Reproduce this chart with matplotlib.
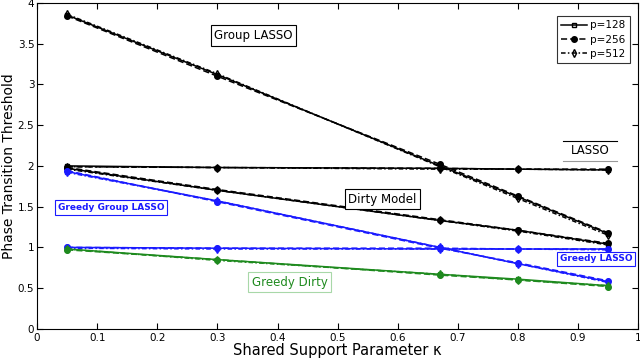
import matplotlib
matplotlib.use("Agg")
import matplotlib.pyplot as plt
from matplotlib.lines import Line2D

kappa = [0.05, 0.3, 0.67, 0.8, 0.95]

# values per method: p=128, p=256, p=512
group_lasso = {128: [3.85, 3.12, 2.00, 1.62, 1.17],
               256: [3.84, 3.10, 2.02, 1.63, 1.18],
               512: [3.86, 3.13, 1.99, 1.60, 1.15]}
lasso = {128: [2.00, 1.98, 1.97, 1.96, 1.95],
         256: [1.99, 1.98, 1.97, 1.96, 1.96],
         512: [1.99, 1.98, 1.96, 1.96, 1.95]}
dirty = {128: [1.97, 1.70, 1.33, 1.21, 1.04],
         256: [1.98, 1.71, 1.34, 1.21, 1.05],
         512: [1.96, 1.70, 1.33, 1.20, 1.03]}
greedy_group = {128: [1.93, 1.57, 1.00, 0.80, 0.58],
                256: [1.94, 1.56, 0.99, 0.81, 0.59],
                512: [1.92, 1.57, 1.00, 0.80, 0.57]}
greedy_lasso = {128: [1.00, 0.99, 0.98, 0.98, 0.98],
                256: [1.00, 0.99, 0.99, 0.98, 0.98],
                512: [0.99, 0.98, 0.98, 0.98, 0.97]}
greedy_dirty = {128: [0.98, 0.85, 0.67, 0.61, 0.53],
                256: [0.97, 0.85, 0.66, 0.60, 0.52],
                512: [0.98, 0.84, 0.67, 0.60, 0.53]}

p_values = [128, 256, 512]
p_labels = ["p=128", "p=256", "p=512"]

methods = [(group_lasso, "black"), (lasso, "black"), (dirty, "black"),
           (greedy_group, "#1a1aff"), (greedy_lasso, "#1a1aff"),
           (greedy_dirty, "#1e8a1e")]

styles = {128: dict(linestyle="-", marker="s", markersize=3.5, markerfacecolor="none"),
          256: dict(linestyle=(0, (4, 2)), marker="o", markersize=4),
          512: dict(linestyle=(0, (3, 1.5, 1, 1.5)), marker="d", markersize=4,
                    markerfacecolor="none")}

fig = plt.figure(figsize=(6.4, 3.63), dpi=100)
ax = fig.add_axes([0.058, 0.094, 0.939, 0.898])

for data, col in methods:
    for p in p_values:
        ax.plot(kappa, data[p], color=col, linewidth=1.1,
                markeredgewidth=1.0, **styles[p])

ax.set_xlim(0, 1)
ax.set_ylim(0, 4)
ax.set_xticks([0, 0.1, 0.2, 0.3, 0.4, 0.5, 0.6, 0.7, 0.8, 0.9, 1])
ax.set_xticklabels(["0", "0.1", "0.2", "0.3", "0.4", "0.5", "0.6", "0.7", "0.8", "0.9", "1"])
ax.set_yticks([0, 0.5, 1, 1.5, 2, 2.5, 3, 3.5, 4])
ax.set_yticklabels(["0", "0.5", "1", "1.5", "2", "2.5", "3", "3.5", "4"])
ax.tick_params(direction="in", top=True, right=True, labelsize=7.5, length=4, pad=2)
ax.tick_params(axis="x", pad=3)
for s in ax.spines.values():
    s.set_linewidth(0.8)

ax.set_xlabel("Shared Support Parameter κ", fontsize=10.5, labelpad=0)
ax.set_ylabel("Phase Transition Threshold", fontsize=10, labelpad=1)

# labels
ax.text(0.36, 3.6, "Group LASSO", fontsize=8.5, ha="center", va="center",
        bbox=dict(boxstyle="square,pad=0.3", facecolor="white", edgecolor="black", linewidth=0.8))
ax.text(0.92, 2.19, "LASSO", fontsize=8.5, ha="center", va="center")
ax.plot([0.875, 0.965], [2.31, 2.31], color="black", linewidth=0.8)
ax.plot([0.875, 0.965], [2.06, 2.06], color="#999999", linewidth=0.8)
ax.text(0.575, 1.59, "Dirty Model", fontsize=8.5, ha="center", va="center",
        bbox=dict(boxstyle="square,pad=0.3", facecolor="white", edgecolor="black", linewidth=0.8))
ax.text(0.123, 1.49, "Greedy Group LASSO", fontsize=6.5, fontweight="bold", color="#1a1aff",
        ha="center", va="center",
        bbox=dict(boxstyle="square,pad=0.3", facecolor="white", edgecolor="#1a1aff", linewidth=0.8))
ax.text(0.93, 0.86, "Greedy LASSO", fontsize=6.5, fontweight="bold", color="#1a1aff",
        ha="center", va="center",
        bbox=dict(boxstyle="square,pad=0.3", facecolor="white", edgecolor="#1a1aff", linewidth=0.8))
ax.text(0.42, 0.57, "Greedy Dirty", fontsize=8.5, color="#1e8a1e", ha="center", va="center",
        bbox=dict(boxstyle="square,pad=0.3", facecolor="white", edgecolor="#a8d8a8", linewidth=0.8))

handles = [Line2D([], [], color="black", linewidth=1.1, markeredgewidth=1.0, **styles[p])
           for p in p_values]
leg = ax.legend(handles, p_labels, loc="upper right", bbox_to_anchor=(0.995, 0.975),
                fontsize=7.5, frameon=True, fancybox=False, edgecolor="black",
                handlelength=2.5, handletextpad=0.3, borderpad=0.4, labelspacing=0.4)
leg.get_frame().set_linewidth(0.8)

fig.savefig("out.png", dpi=100)
